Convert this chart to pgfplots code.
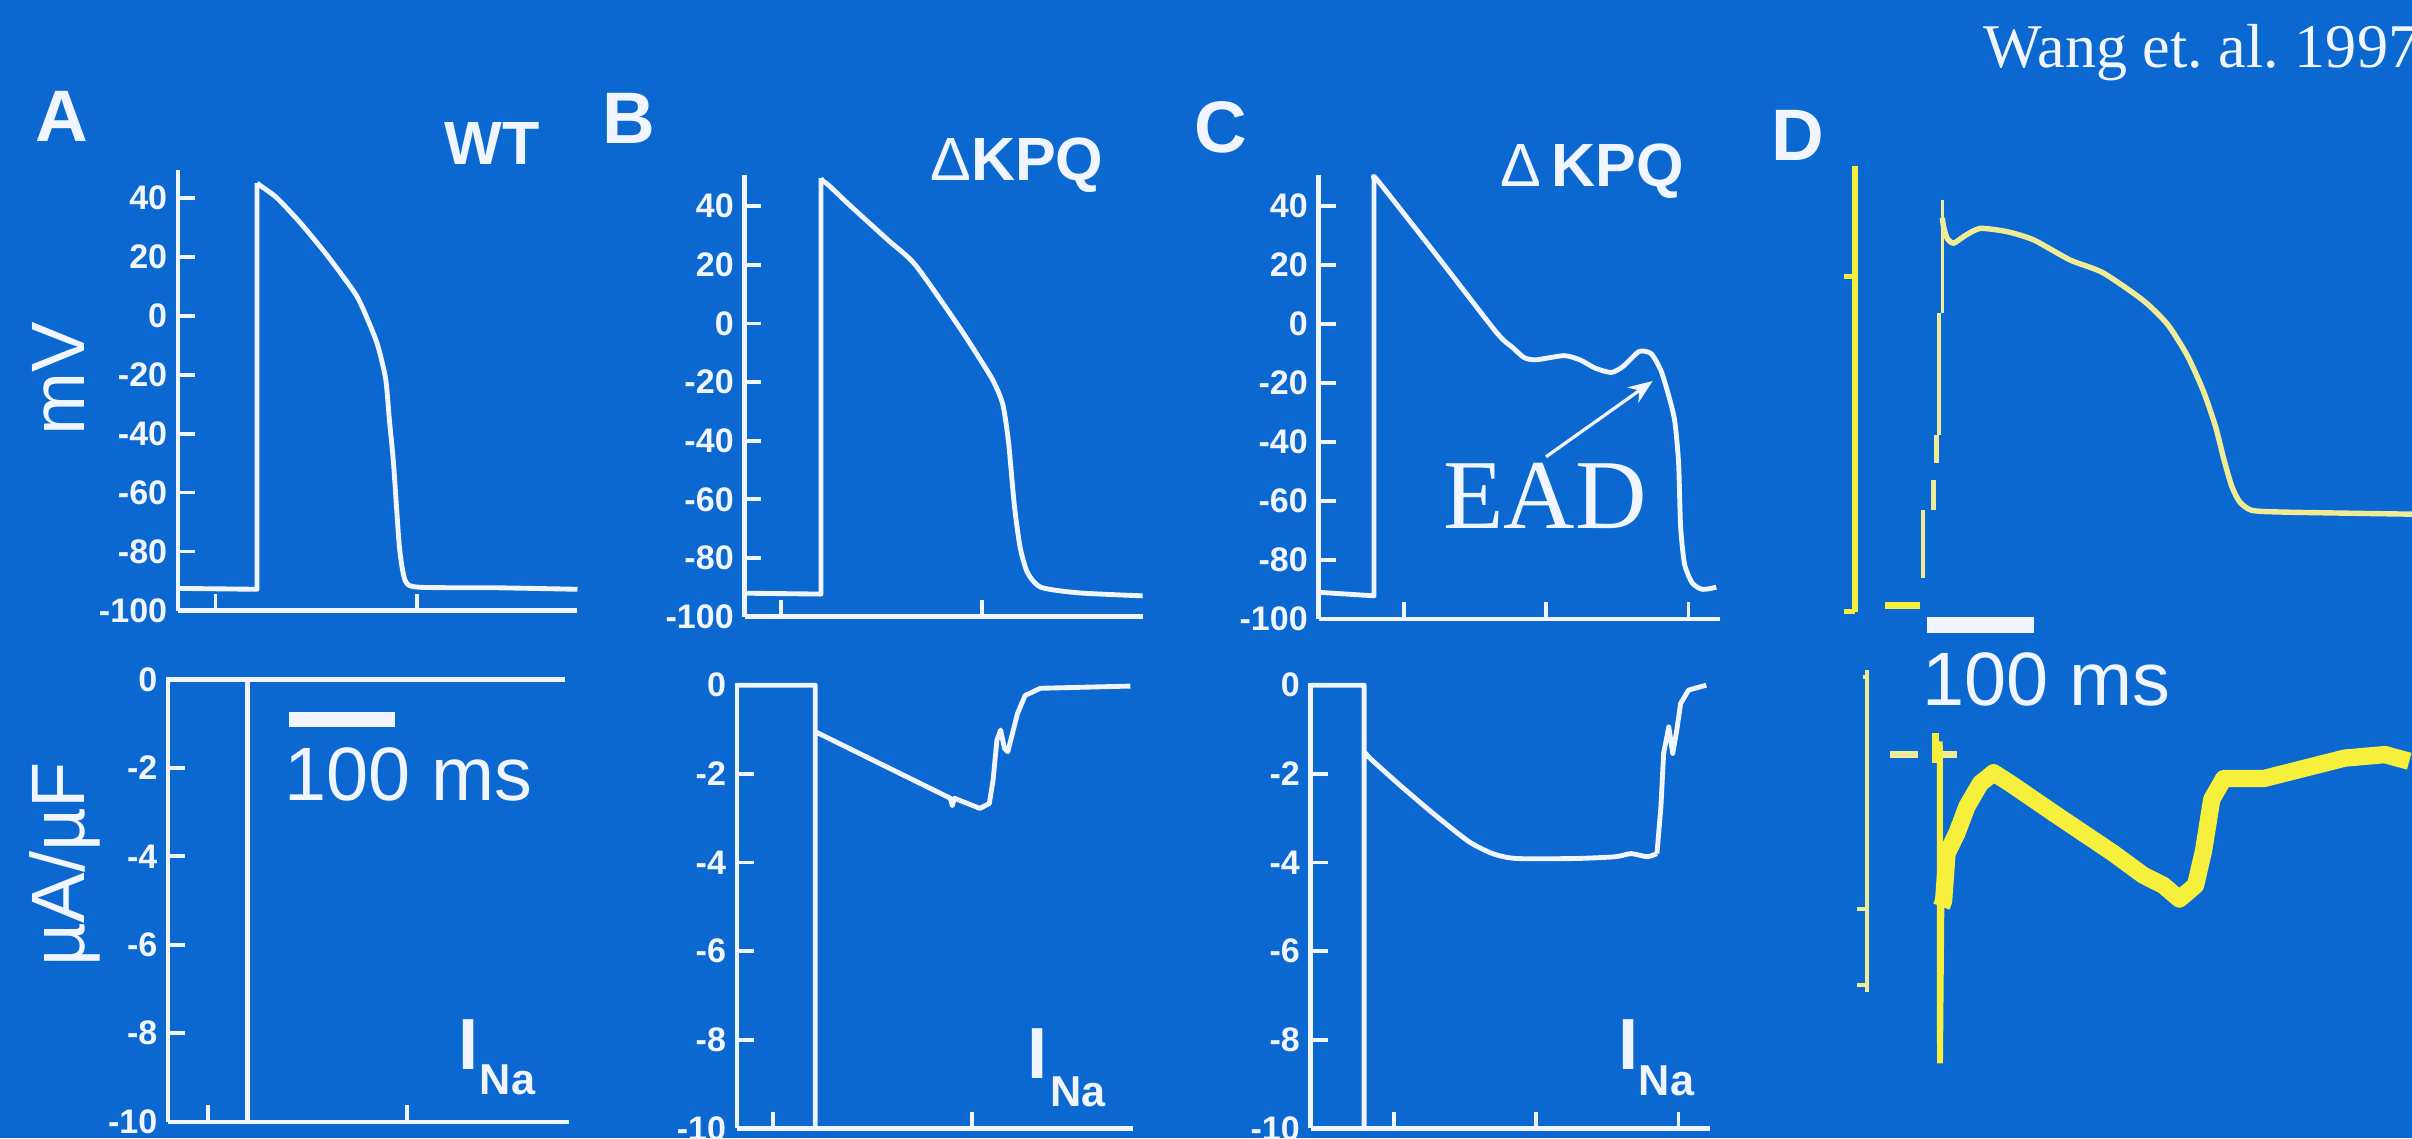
\documentclass[border=0pt]{standalone}
\usepackage{fontspec}
\setmainfont{Liberation Sans}
\newfontfamily\serifft{Liberation Serif}
\usepackage{pgfplots}
\pgfplotsset{compat=1.18}
\usetikzlibrary{arrows.meta}
\definecolor{bgblue}{RGB}{10,104,208}
\definecolor{wht}{RGB}{240,245,255}
\definecolor{ylw}{RGB}{246,240,60}
\definecolor{pyl}{RGB}{240,236,150}
\pgfplotsset{
  panel/.style={
    scale only axis, anchor=south west, clip=false,
    axis lines=left, axis line style={draw=wht, line width=0.8pt, -},
    tick style={draw=wht, line width=0.7pt},
    tick align=inside, major tick length=0.11cm,
    xticklabels={},
    yticklabel style={font=\bfseries\fontsize{6.3}{7}\selectfont, text=wht, inner sep=0.3pt, xshift=-1.5pt},
  },
  toppanel/.style={panel, ymin=-100, ytick={-100,-80,-60,-40,-20,0,20,40},
    yticklabels={-100,-80,-60,-40,-20,0,20,40}},
  botpanel/.style={panel, ymin=-10, ymax=0.05, ytick={-10,-8,-6,-4,-2,0},
    yticklabels={-10,-8,-6,-4,-2,0}},
  tr/.style={draw=wht, line width=0.9pt, line join=round, mark=none},
  dpanel/.style={scale only axis, anchor=south west, clip=false, hide axis},
}
\begin{document}
\frenchspacing
\begin{tikzpicture}
\useasboundingbox (0,0) rectangle (15.68,7.40);
\fill[bgblue] (0,0) rectangle (15.68,7.40);
\begin{scope}
\clip (0,0) rectangle (15.68,7.40);

% ---------- Panel A ----------
\begin{axis}[toppanel, at={(1.157cm,3.431cm)}, width=2.597cm, height=2.861cm,
  xmin=-37.2, xmax=358.9, ymax=49.3, xtick={0,200}]
\addplot[tr] coordinates {(-37.2,-92.5) (41.2,-92.8) (41.2,45)};
\addplot[tr, smooth, tension=0.4] coordinates {(41.2,45) (45,44) (60.8,40) (84.4,31.4) (111.8,20) (139.3,7.1) (151,-1.4) (160.8,-10) (168.7,-21.4) (172.5,-35.7) (176.5,-50) (182.4,-78.6) (188.3,-90) (202,-92.1) (280,-92.3) (358.9,-92.8)};
\end{axis}
\begin{axis}[botpanel, at={(1.093cm,0.108cm)}, width=2.609cm, height=2.889cm,
  xmin=-39.6, xmax=362.4, xtick={0,200}]
\addplot[tr] coordinates {(-39.6,0) (39.6,0) (39.6,-10) (39.6,0) (358.4,0)};
\addplot[draw=wht, line width=2.85pt] coordinates {(81.2,-0.9) (188,-0.9)};
\end{axis}

% ---------- Panel B ----------
\begin{axis}[toppanel, at={(4.840cm,3.391cm)}, width=2.588cm, height=2.873cm,
  xmin=-36.1, xmax=359.9, ymax=50.7, xtick={0,200}]
\addplot[tr] coordinates {(-36.1,-92) (39.9,-92.3) (39.9,49.5)};
\addplot[tr, smooth, tension=0.4] coordinates {(39.9,49.5) (42,48.5) (47.6,47.1) (69.5,40) (106.7,28.4) (133.7,20) (175,0) (195,-10.5) (211.3,-19.6) (220.8,-27.6) (226.5,-40.5) (232.3,-62) (238,-76.3) (245.4,-85) (258.9,-90) (297,-91.9) (359.9,-92.9)};
\end{axis}
\begin{axis}[botpanel, at={(4.790cm,0.064cm)}, width=2.575cm, height=2.896cm,
  xmin=-36.5, xmax=361.5, xtick={0,200}]
\addplot[tr] coordinates {(-36.5,0) (42.3,0) (42.3,-10) (42.3,-1.05) (178,-2.55) (180,-2.72) (182,-2.55) (207.7,-2.78) (217.2,-2.67) (221,-2.14) (224.8,-1.24) (228.6,-1.01) (232.4,-1.43) (235.8,-1.50) (245.5,-0.64) (253.2,-0.23) (268.6,-0.07) (359,-0.02)};
\end{axis}

% ---------- Panel C ----------
\begin{axis}[toppanel, at={(8.572cm,3.377cm)}, width=2.609cm, height=2.887cm,
  xmin=-119.5, xmax=444.3, ymax=50.7, xtick={0,200,400}]
\addplot[tr] coordinates {(-119.5,-91) (-41.7,-92.2) (-41.7,49.5)};
\addplot[tr, smooth, tension=0.4] coordinates {(-41.7,49.5) (-36.1,48.6) (47.1,23.1) (130.6,-2.9) (152.9,-7.9) (169.5,-11.4) (186.2,-12.1) (225.1,-10.7) (247.4,-12.1) (269.6,-15) (291.9,-16.4) (308.5,-14.3) (330.6,-9.3) (347.5,-10) (361.3,-15.7) (372.3,-24.3) (380.8,-32.9) (386.2,-47.2) (389,-68.6) (394.6,-81.5) (405.6,-87.9) (419.7,-90) (439.1,-89.3)};
\end{axis}
\begin{axis}[botpanel, at={(8.520cm,0.064cm)}, width=2.597cm, height=2.896cm,
  xmin=-116.7, xmax=444.5, xtick={0,200,400}]
\addplot[tr] coordinates {(-116.7,0) (-41.5,0) (-41.5,-10) (-41.5,-1.50) (-33.3,-1.65)};
\addplot[tr, smooth, tension=0.4] coordinates {(-33.3,-1.65) (11.2,-2.29) (61.2,-2.97) (105.7,-3.53) (139,-3.80) (172.3,-3.91) (255.8,-3.91) (311.4,-3.87) (333.6,-3.80) (355.9,-3.87) (369.8,-3.80)};
\addplot[tr] coordinates {(369.8,-3.80) (375.4,-2.74) (379.2,-1.54) (386.4,-0.94) (392,-1.54) (397.6,-1.02) (403.1,-0.41) (414.3,-0.11) (439.1,0)};
\end{axis}

% ---------- Panel D (top) ----------
\begin{axis}[dpanel, at={(11.90cm,3.30cm)}, width=3.78cm, height=3.10cm,
  xmin=-102.3, xmax=442.4, ymin=-120, ymax=41.7]
\addplot[ylw, line width=1.1pt] coordinates {(-79.5,37.6) (-79.5,-113.6)};
\addplot[ylw, line width=1.0pt] coordinates {(-89.3,0) (-79.5,0)};
\addplot[ylw, line width=1.0pt] coordinates {(-89.3,-113.6) (-79.5,-113.6)};
\addplot[ylw, line width=1.3pt] coordinates {(-51,-111.4) (-18.2,-111.4)};
\addplot[pyl, line width=0.9pt] coordinates {(-15.7,-79.1) (-15.7,-102.3)};
\addplot[pyl, line width=0.9pt] coordinates {(-5.8,-68.9) (-5.8,-79.1)};
\addplot[pyl, line width=0.9pt] coordinates {(-3.2,-53.6) (-3.2,-63.2)};
\addplot[pyl, line width=0.9pt] coordinates {(-0.7,-12.4) (-0.7,-53.6)};
\addplot[pyl, line width=0.6pt] coordinates {(2.4,26) (2.4,-12.4)};
\addplot[pyl, line width=1.0pt, smooth, tension=0.4] coordinates {(2.4,20) (3.6,17) (7,13) (13,11.4) (24.4,14.1) (38,16.4) (63,15.3) (88,12.5) (122,5.7) (152.7,1.4) (190.5,-8.0) (213.3,-16.1) (232,-26.8) (247.1,-38.9) (258.5,-51) (266,-61.7) (273.6,-71.1) (281.1,-76.4) (292.5,-79.2) (322.8,-79.8) (442.4,-80.5)};
\addplot[draw=wht, line width=2.85pt] coordinates {(-11.5,-118.1) (88.5,-118.1)};
\end{axis}

% ---------- Panel D (bottom) ----------
\begin{axis}[dpanel, at={(11.90cm,0.40cm)}, width=3.78cm, height=2.80cm,
  xmin=-102.3, xmax=442.4, ymin=-7.27, ymax=2.45]
\addplot[pyl, line width=0.7pt] coordinates {(-68.3,1.9) (-68.3,-5.35)};
\addplot[pyl, line width=0.7pt] coordinates {(-72,1.75) (-68.3,1.75)};
\addplot[pyl, line width=0.7pt] coordinates {(-77.7,-3.49) (-68.3,-3.49)};
\addplot[pyl, line width=0.7pt] coordinates {(-77.7,-5.2) (-68.3,-5.2)};
\addplot[pyl, line width=1.4pt] coordinates {(-46.8,0) (-20.3,0)};
\addplot[ylw, line width=1.4pt] coordinates {(-4.2,0.49) (-4.2,-0.2)};
\addplot[pyl, line width=1.2pt] coordinates {(2.2,0) (16.2,0)};
\addplot[ylw, line width=1.1pt] coordinates {(0,0.3) (0.2,-6.97) (1.5,-3.43)};
\addplot[ylw, line width=3.2pt, line join=round] coordinates {(1.6,-3.43) (3.6,-3.3) (6.8,-2.23) (16.1,-1.77) (25.5,-1.17) (38,-0.65) (50.4,-0.41) (66,-0.65) (106.6,-1.32) (162.8,-2.23) (190.5,-2.72) (209.4,-2.95) (224.5,-3.26) (239.6,-2.95) (247.1,-2.17) (254.8,-1.01) (266,-0.54) (303.7,-0.54) (341.5,-0.31) (379.2,-0.08) (417,0) (439.8,-0.15)};
\end{axis}

% ---------- Text ----------
\begin{scope}[every node/.style={text=wht, inner sep=0pt}]
\node[font=\bfseries\fontsize{13.5}{14}\selectfont] at (0.40,6.64) {A};
\node[font=\bfseries\fontsize{13.5}{14}\selectfont] at (4.09,6.63) {B};
\node[font=\bfseries\fontsize{13.5}{14}\selectfont] at (7.935,6.572) {C};
\node[font=\bfseries\fontsize{13.5}{14}\selectfont] at (11.69,6.52) {D};
\node[font=\bfseries\fontsize{11.3}{12}\selectfont] at (3.20,6.47) {WT};
\node[font=\bfseries\fontsize{11.3}{12}\selectfont] at (6.61,6.325) {{\mdseries Δ}KPQ};
\node[font=\bfseries\fontsize{11.3}{12}\selectfont] at (10.35,6.29) {{\mdseries Δ}\,KPQ};
\node[font=\fontsize{14}{16}\selectfont, rotate=90] at (0.38,4.94) {mV};
\node[font=\fontsize{14}{16}\selectfont, rotate=90] at (0.42,1.78) {µA/µF};
\node[font=\fontsize{14}{16}\selectfont] at (2.655,2.366) {100 ms};
\node[font=\fontsize{14}{16}\selectfont] at (13.302,2.985) {100 ms};
\node[font=\serifft\fontsize{18.3}{20}\selectfont] at (10.044,4.177) {EAD};
\draw[wht, line width=0.6pt, -{Stealth[length=4.5pt,width=3.5pt]}] (10.05,4.43) -- (10.744,4.923);
\node[font=\bfseries\fontsize{13.4}{14}\selectfont] at (3.047,0.611) {I};
\node[font=\bfseries\fontsize{8}{9}\selectfont] at (3.30,0.377) {Na};
\node[font=\bfseries\fontsize{13.4}{14}\selectfont] at (6.743,0.552) {I};
\node[font=\bfseries\fontsize{8}{9}\selectfont] at (7.01,0.305) {Na};
\node[font=\bfseries\fontsize{13.4}{14}\selectfont] at (10.584,0.611) {I};
\node[font=\bfseries\fontsize{8}{9}\selectfont] at (10.834,0.373) {Na};
\node[font=\serifft\fontsize{11.5}{12}\selectfont, anchor=base west] at (12.89,6.96) {Wang et. al. 1997};
\end{scope}
\end{scope}
\end{tikzpicture}
\end{document}
